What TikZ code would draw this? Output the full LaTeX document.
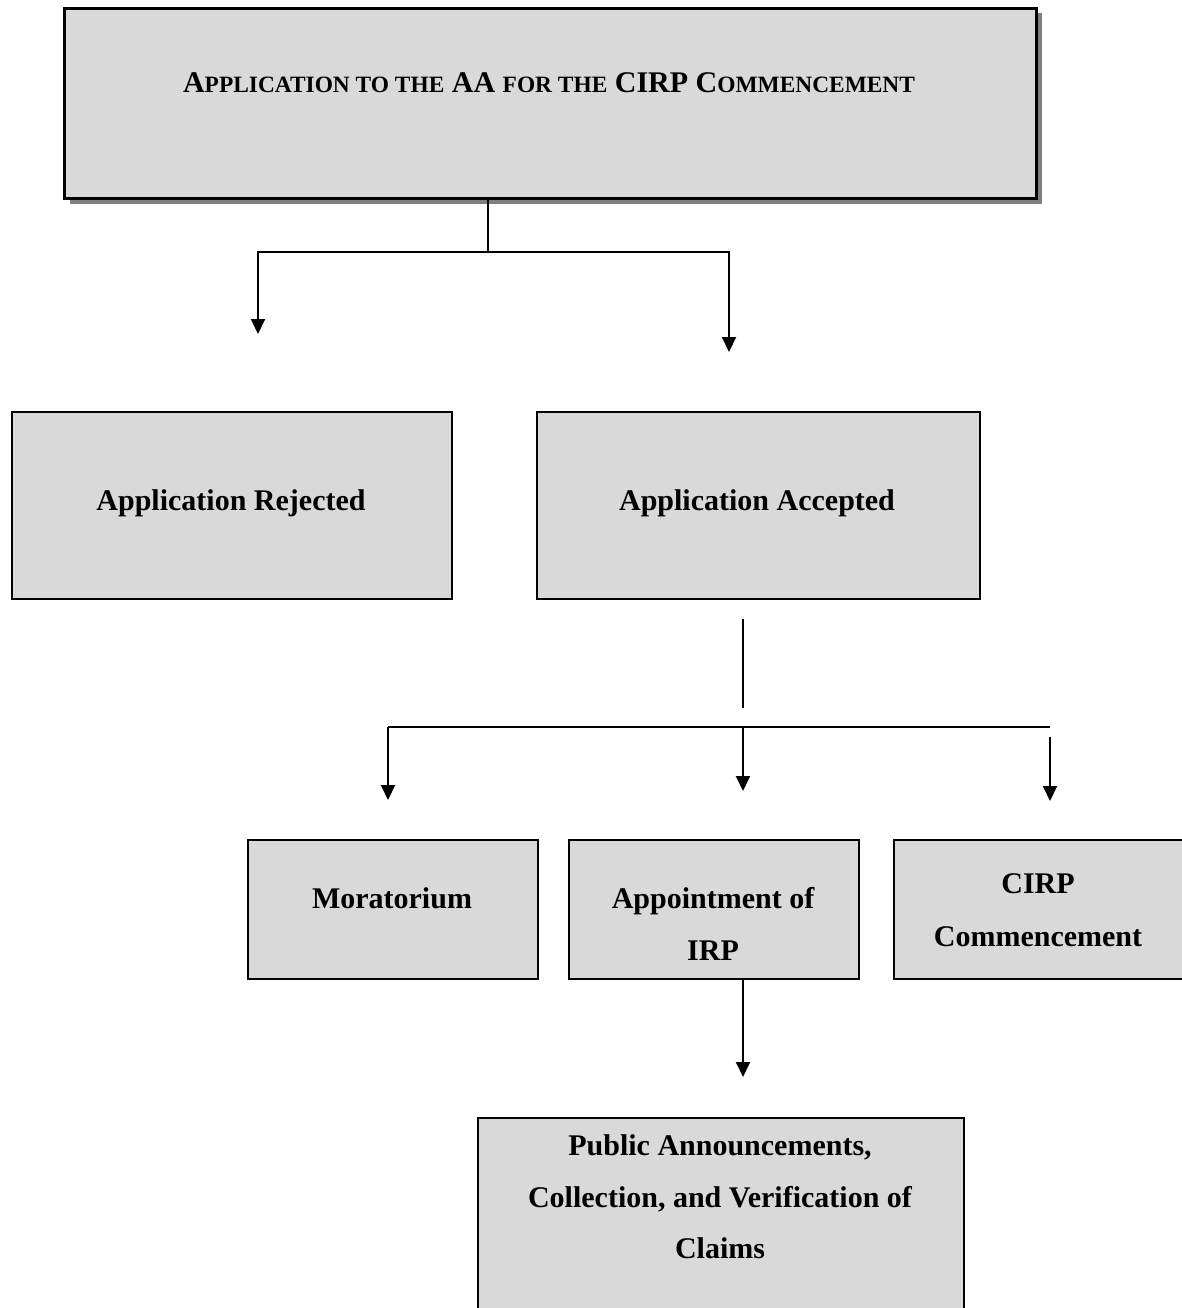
\documentclass[tikz,border=0pt]{standalone}
\usepackage{fontspec}
\setmainfont{Liberation Serif}
\usetikzlibrary{arrows.meta,shadows}
\definecolor{boxgray}{HTML}{D9D9D9}
\definecolor{shadowgray}{HTML}{808080}
\newcommand\smc[1]{{\fontsize{23.4}{23.4}\selectfont #1}}
\begin{document}
\begin{tikzpicture}[x=1pt,y=-1pt,
  box/.style={draw=black, line width=1.5pt, fill=boxgray, anchor=north west, inner sep=0pt},
  topbox/.style={box, line width=3pt, drop shadow={shadow xshift=5pt, shadow yshift=-5pt, fill=shadowgray, opacity=1}},
  lbl/.style={font=\fontsize{30}{52}\selectfont\bfseries, align=center, anchor=base, inner sep=0pt},
  conn/.style={line width=2pt},
  arr/.style={conn, -{Triangle[length=15pt,width=14pt]}}]
\fill[white] (0,0) rectangle (1182,1308);
\useasboundingbox (0,0) rectangle (1182,1308);

% boxes
\node[topbox, minimum width=972pt, minimum height=190pt] (top) at (63,7) {};
\node[box, minimum width=440pt, minimum height=187pt] (rej) at (11,411) {};
\node[box, minimum width=443pt, minimum height=187pt] (acc) at (536,411) {};
\node[box, minimum width=290pt, minimum height=139pt] (mor) at (247,839) {};
\node[box, minimum width=290pt, minimum height=139pt] (app) at (568,839) {};
\node[box, minimum width=290pt, minimum height=139pt] (cirp) at (893,839) {};
\node[box, minimum width=486pt, minimum height=230pt] (pub) at (477,1117) {};

% texts
\node[lbl] (toptxt) at (549,93) {A\smc{PPLICATION TO THE} AA \smc{FOR THE} CIRP C\smc{OMMENCEMENT}};
\node[lbl] (rejtxt) at (231,510) {Application Rejected};
\node[lbl] (acctxt) at (757,510) {Application Accepted};
\node[lbl] (mortxt) at (392,908) {Moratorium};
\node[lbl] (apptxt1) at (713,908) {Appointment of};
\node[lbl] (apptxt2) at (713,960) {IRP};
\node[lbl] (cirptxt1) at (1038,893) {CIRP};
\node[lbl] (cirptxt2) at (1038,946) {Commencement};
\node[lbl] (pubtxt1) at (720,1155) {Public Announcements,};
\node[lbl] (pubtxt2) at (720,1207) {Collection, and Verification of};
\node[lbl] (pubtxt3) at (720,1258) {Claims};

% connectors, upper part
\coordinate (t1) at (488,252);
\coordinate (rejTip) at (258,334);
\coordinate (accTip) at (729,352);
\draw[conn] (top.south -| t1) -- (t1);
\draw[arr] (t1) -| (rejTip);
\draw[arr] (t1) -| (accTip);

% connectors, middle part
\coordinate (s1) at (743,619);
\coordinate (s2) at (743,708);
\coordinate (h1) at (388,727);
\coordinate (hm) at (743,727);
\coordinate (h2) at (1050,727);
\coordinate (r1) at (1050,737);
\coordinate (morTip) at (388,800);
\coordinate (appTip) at (743,791);
\coordinate (cirpTip) at (1050,801);
\draw[conn] (s1) -- (s2);
\draw[conn] (h1) -- (h2);
\draw[arr] (h1) -- (morTip);
\draw[arr] (hm) -- (appTip);
\draw[arr] (r1) -- (cirpTip);

% connector, lower part
\coordinate (pubTip) at (743,1077);
\draw[arr] (app.south -| pubTip) -- (pubTip);
\end{tikzpicture}
\end{document}
